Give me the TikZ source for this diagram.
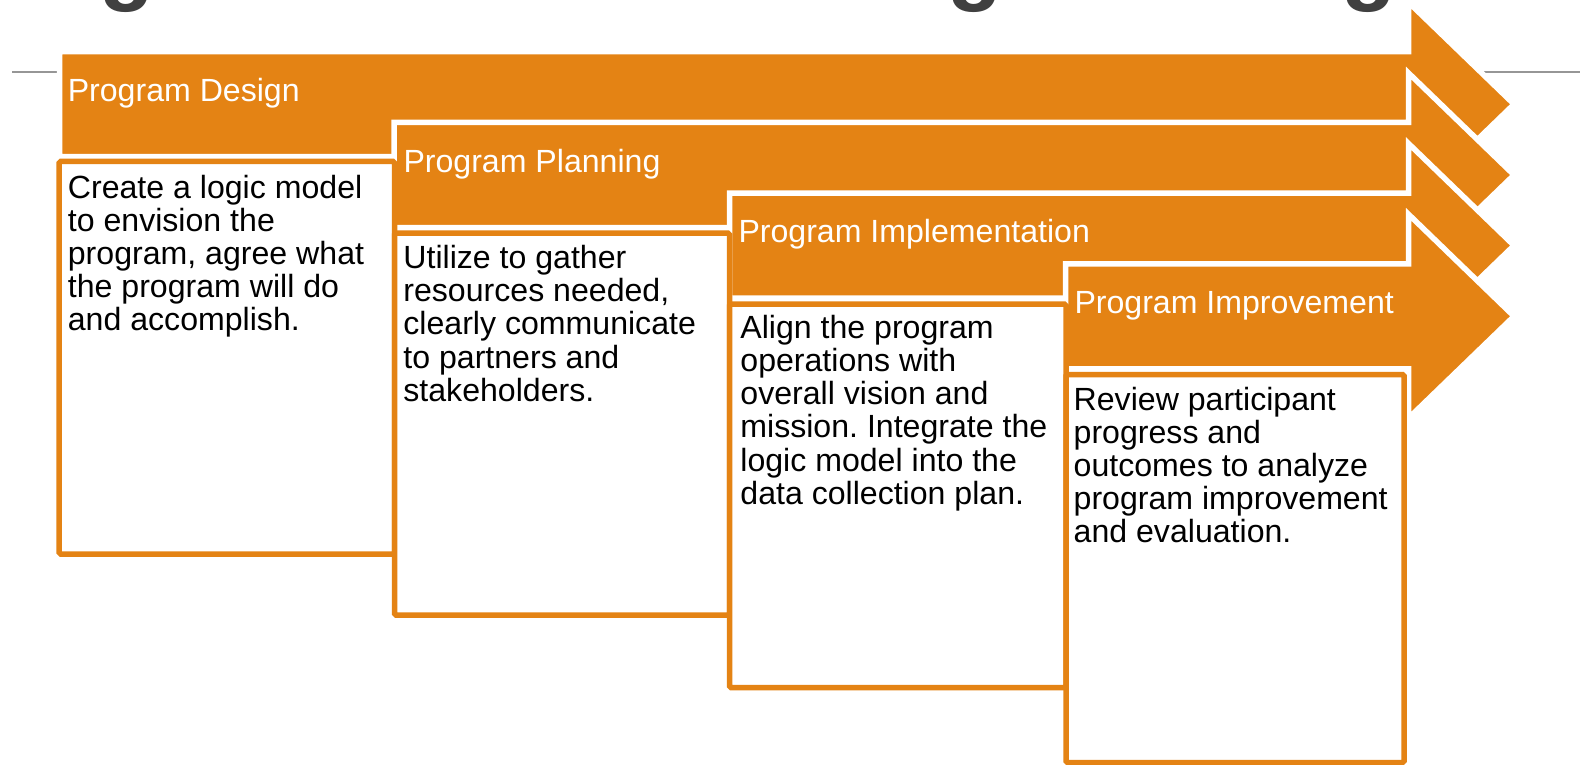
\documentclass[tikz,border=0pt]{standalone}
\usepackage{fontspec}
\setmainfont{Liberation Sans}
\frenchspacing
\definecolor{ora}{RGB}{228,131,20}
\definecolor{titlegray}{RGB}{64,64,64}
\definecolor{rulegray}{RGB}{150,150,150}
\newcommand\drawstage[2]{%
  \path[stagearrow] (#1,#2-52.5) -- (1408.5,#2-52.5) -- (1408.5,#2-102) -- (1514,#2)
    -- (1408.5,#2+102) -- (1408.5,#2+52.5) -- (#1,#2+52.5) -- cycle;}
\newcommand\bodylines[1]{\parbox[t]{345pt}{\raggedright\fontsize{32.1}{33.2}\selectfont #1}}
\begin{document}
\begin{tikzpicture}[x=1pt,y=-1pt,
  stagearrow/.style={fill=ora, draw=white, line width=5.5pt, line join=miter},
  descbox/.style={draw=ora, fill=white, line width=5.5pt, rounded corners=1.5pt},
  headtext/.style={anchor=base west, inner sep=0pt, text=white, font=\fontsize{32.1}{36}\selectfont},
  bodytext/.style={anchor=base west, inner sep=0pt, text=black},
  titleglyph/.style={anchor=base, inner sep=0pt, text=titlegray, font=\fontsize{90}{90}\bfseries\selectfont},
  titlerule/.style={draw=rulegray, line width=1.8pt}]
\useasboundingbox (0,0) rectangle (1580,765);
\clip (0,0) rectangle (1580,765);
\fill[white] (0,0) rectangle (1580,765);
% cut-off title glyphs
\node[titleglyph] (t1) at (126.5,-6.7) {g};
\node[titleglyph] (t2) at (974.5,-6.7) {g};
\node[titleglyph] (t3) at (1369,-6.7) {g};
% title rule
\coordinate (ruleL) at (12,72.3);
\coordinate (ruleR) at (1580,72.3);
\draw[titlerule] (ruleL) -- (ruleR);
% arrows
\drawstage{59.5}{104.25}
\drawstage{394}{175}
\drawstage{729.5}{245.5}
\drawstage{1065.5}{316.25}
% description boxes
\path[descbox] (59.2,161.5) rectangle (394.5,554);
\path[descbox] (394.5,233.2) rectangle (729.5,615);
\path[descbox] (729.5,304.2) rectangle (1066,687.5);
\path[descbox] (1066,374.5) rectangle (1404,762.5);
% headers
\node[headtext] (h1) at (67.6,101.7) {Program Design};
\node[headtext] (h2) at (403.3,172.7) {Program Planning};
\node[headtext] (h3) at (738.3,242.7) {Program Implementation};
\node[headtext] (h4) at (1074.3,313.3) {Program Improvement};
% body texts
\node[bodytext] (b1) at (67.7,198) {\bodylines{Create a logic model\\to envision the\\program, agree what\\the program will do\\and accomplish.}};
\node[bodytext] (b2) at (403.2,268.5) {\bodylines{Utilize to gather\\resources needed,\\clearly communicate\\to partners and\\stakeholders.}};
\node[bodytext] (b3) at (740.2,338.3) {\bodylines{Align the program\\operations with\\overall vision and\\mission. Integrate the\\logic model into the\\data collection plan.}};
\node[bodytext] (b4) at (1073.5,410) {\bodylines{Review participant\\progress and\\outcomes to analyze\\program improvement\\and evaluation.}};
\end{tikzpicture}
\end{document}
